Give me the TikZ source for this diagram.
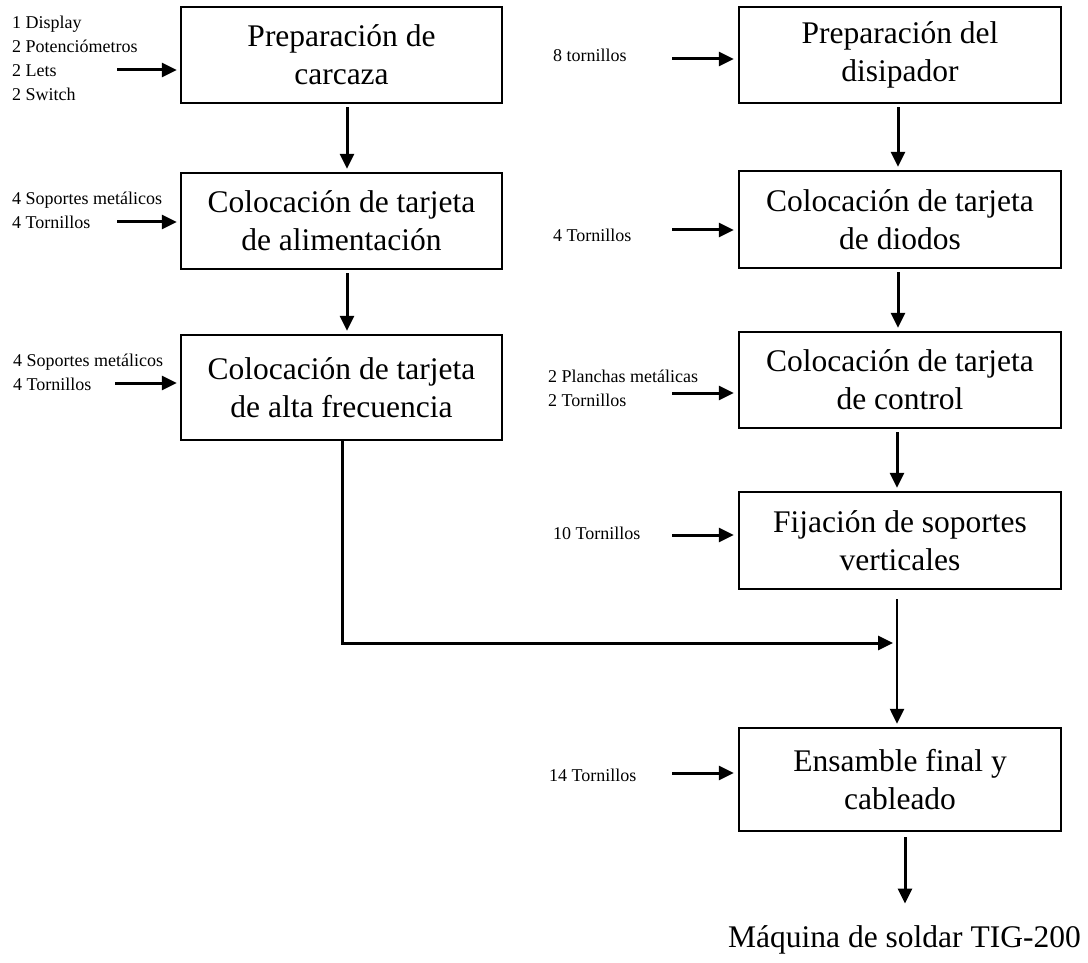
\documentclass[tikz,border=0pt]{standalone}
\usepackage{fontspec}
\setmainfont{Liberation Serif}
\usetikzlibrary{arrows.meta}
\begin{document}
\begin{tikzpicture}[x=1pt,y=-1pt,
 box/.style={draw, line width=2.4pt, inner sep=0pt, align=center, font=\fontsize{31.5}{38}\selectfont},
 lab/.style={anchor=west, inner sep=0pt, align=left, font=\fontsize{18}{24}\selectfont},
 arr/.style={line width=3pt, -{Triangle[length=15pt,width=14pt]}},
 thinarr/.style={line width=2.4pt, -{Triangle[length=15pt,width=14pt]}}]
\useasboundingbox (0,0) rectangle (1088,963);
% boxes
\node[box, minimum width=321pt, minimum height=96pt] (L1) at (341.5,55) {Preparación de\\carcaza};
\node[box, minimum width=321pt, minimum height=96pt] (L2) at (341.5,221) {Colocación de tarjeta\\de alimentación};
\node[box, minimum width=321pt, minimum height=105pt] (L3) at (341.5,387.5) {Colocación de tarjeta\\de alta frecuencia};
\node[box, minimum width=322pt, minimum height=96pt] (R1) at (900,55) {Preparación del\\disipador};
\node[box, minimum width=322pt, minimum height=97pt] (R2) at (900,219.5) {Colocación de tarjeta\\de diodos};
\node[box, minimum width=322pt, minimum height=96pt] (R3) at (900,380) {Colocación de tarjeta\\de control};
\node[box, minimum width=322pt, minimum height=97pt] (R4) at (900,540.5) {Fijación de soportes\\verticales};
\node[box, minimum width=322pt, minimum height=103pt] (R5) at (900,779.5) {Ensamble final y\\cableado};
\node[inner sep=0pt, font=\fontsize{31.5}{38}\selectfont] (out) at (904.5,940) {Máquina de soldar TIG-200};
% labels
\node[lab] (t1) at (12,58) {1 Display\\2 Potenciómetros\\2 Lets\\2 Switch};
\node[lab] (t2) at (12,210) {4 Soportes metálicos\\4 Tornillos};
\node[lab] (t3) at (13,372.5) {4 Soportes metálicos\\4 Tornillos};
\node[lab] (u1) at (553,55) {8 tornillos};
\node[lab] (u2) at (553,235) {4 Tornillos};
\node[lab] (u3) at (548,388) {2 Planchas metálicas\\2 Tornillos};
\node[lab] (u4) at (553,533) {10 Tornillos};
\node[lab] (u5) at (549,775) {14 Tornillos};
% input arrow starts
\coordinate (i1) at (117,70);
\coordinate (i2) at (117,222);
\coordinate (i3) at (115,383);
\coordinate (j1) at (672,59);
\coordinate (j2) at (672,230);
\coordinate (j3) at (672,393);
\coordinate (j4) at (672,535);
\coordinate (j5) at (672,773);
\coordinate (xl) at (347,0);
\coordinate (xr) at (898,0);
\coordinate (xr2) at (897,0);
\coordinate (xb) at (342,0);
\coordinate (xo) at (905,0);
\coordinate (jn) at (897,643);
% input arrows
\draw[arr, shorten >=3pt] (i1) -- (i1 -| L1.west);
\draw[arr, shorten >=3pt] (i2) -- (i2 -| L2.west);
\draw[arr, shorten >=3pt] (i3) -- (i3 -| L3.west);
\draw[arr, shorten >=4pt] (j1) -- (j1 -| R1.west);
\draw[arr, shorten >=4pt] (j2) -- (j2 -| R2.west);
\draw[arr, shorten >=4pt] (j3) -- (j3 -| R3.west);
\draw[arr, shorten >=4pt] (j4) -- (j4 -| R4.west);
\draw[arr, shorten >=4pt] (j5) -- (j5 -| R5.west);
% flow arrows
\draw[arr, shorten <=3pt, shorten >=3pt] (L1.south -| xl) -- (L2.north -| xl);
\draw[arr, shorten <=3pt, shorten >=3pt] (L2.south -| xl) -- (L3.north -| xl);
\draw[arr, shorten <=3pt, shorten >=3pt] (R1.south -| xr) -- (R2.north -| xr);
\draw[arr, shorten <=3pt, shorten >=3pt] (R2.south -| xr) -- (R3.north -| xr);
\draw[arr, shorten <=3pt, shorten >=3pt] (R3.south -| xr2) -- (R4.north -| xr2);
\draw[thinarr, shorten <=9pt, shorten >=3pt] (R4.south -| xr2) -- (R5.north -| xr2);
\draw[arr, shorten >=4pt] (L3.south -| xb) |- (jn);
\draw[arr, shorten <=5pt, shorten >=22pt] (R5.south -| xo) -- (out.north -| xo);
\end{tikzpicture}
\end{document}
